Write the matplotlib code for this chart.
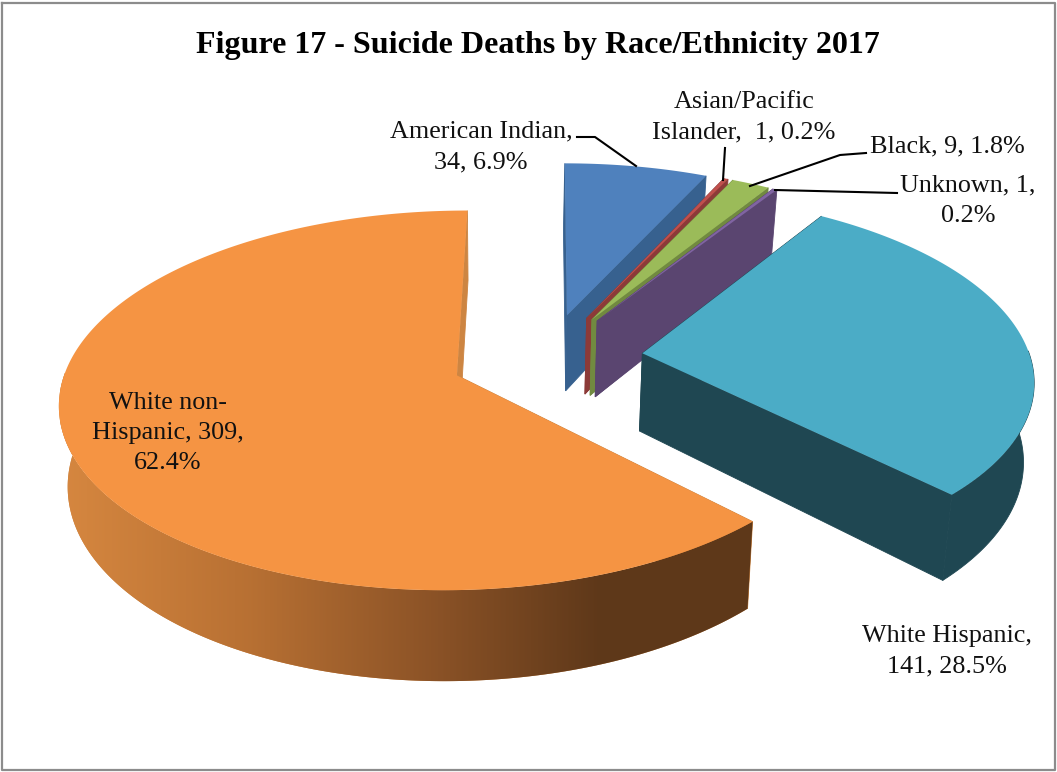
"""Figure 17 - exploded 3D pie of suicide deaths by race/ethnicity."""
import matplotlib
matplotlib.use("Agg")
import matplotlib.pyplot as plt
import numpy as np

CATEGORIES = ["American Indian", "Asian/Pacific Islander", "Black", "Unknown",
              "White Hispanic", "White non-Hispanic"]
VALUES = [34, 1, 9, 1, 141, 309]
TOP_COLORS = ["#4F81BD", "#C0504D", "#9BBB59", "#8064A2", "#4BACC6", "#F59443"]
CUT_COLORS = ["#37618F", "#8C3A38", "#718A40", "#5A4570", "#1F4752", "#CD8542"]

LABELS = ["American Indian,\n34, 6.9%", "Asian/Pacific\nIslander,  1, 0.2%", "Black, 9, 1.8%",
          "Unknown, 1,\n0.2%", "White Hispanic,\n141, 28.5%", "White non-\nHispanic, 309,\n62.4%"]
LABEL_POS = [(481, 147), (744, 117), (947, 146), (968, 201), (947, 651), (168, 433)]
LEADERS = [[(577, 137), (595, 137), (636, 166)],
           [(725, 148), (723, 180)],
           [(866, 153), (840, 155), (750, 186)],
           [(897, 193), (775, 190)]]

# orange wall shading runs left to right
WALL_X = [60, 250, 440, 600, 760]
WALL_R = [0.84, 0.72, 0.54, 0.37, 0.37]
WALL_G = [0.53, 0.44, 0.32, 0.22, 0.22]
WALL_B = [0.25, 0.20, 0.15, 0.10, 0.10]

# projection of the pie plane onto the picture, in pixels
CX, CY = 547, 358
A, B, K = 388, 182, 0.13
EXPLODE = 0.248
START = 0.0
DEPTH = 78
SHRINK = 0.98
PIVOT = 500


def project(px, py, low=False):
    s = 1 / (1 + K * py)
    x = CX + A * px * s
    y = CY - B * py * s
    if low:
        x = PIVOT + (x - PIVOT) * SHRINK
        y = y + DEPTH * s
    return x, y


def rim(t, ox, oy):
    return ox + np.sin(np.radians(t)), oy + np.cos(np.radians(t))


def draw_slice(ax, t0, t1, top, cut, gradient):
    mid = np.radians((t0 + t1) / 2)
    ox, oy = EXPLODE * np.sin(mid), EXPLODE * np.cos(mid)

    # the two cut faces
    for t in (t0, t1):
        ex, ey = rim(t, ox, oy)
        xs = [project(ox, oy)[0], project(ex, ey)[0], project(ex, ey, True)[0], project(ox, oy, True)[0]]
        ys = [project(ox, oy)[1], project(ex, ey)[1], project(ex, ey, True)[1], project(ox, oy, True)[1]]
        ax.fill(xs, ys, color=cut, lw=0.6)

    # outer wall, only the part looking towards the viewer
    ts = np.arange(t0, t1 + 0.5, 0.5)
    ts[-1] = t1
    front = ts[np.cos(np.radians(ts)) < 0.02]
    if len(front) > 1:
        rx, ry = rim(front, ox, oy)
        x1, y1 = project(rx, ry)
        x2, y2 = project(rx, ry, True)
        xs, ys = np.r_[x1, x2[::-1]], np.r_[y1, y2[::-1]]
        if gradient:
            grid = np.linspace(WALL_X[0], WALL_X[-1], 400)
            img = np.dstack([np.interp(grid, WALL_X, WALL_R), np.interp(grid, WALL_X, WALL_G),
                             np.interp(grid, WALL_X, WALL_B)])
            patch = ax.fill(xs, ys, color=cut, lw=0)[0]
            im = ax.imshow(img, extent=[WALL_X[0], WALL_X[-1], 772, 0], aspect="auto", zorder=patch.get_zorder())
            im.set_clip_path(patch)
            ax.set_xlim(0, 1057)
            ax.set_ylim(772, 0)
        else:
            ax.fill(xs, ys, color=cut, lw=0.6)

    # top face
    rx, ry = rim(ts, ox, oy)
    xs, ys = project(np.r_[ox, rx], np.r_[oy, ry])
    ax.fill(xs, ys, color=top, lw=0, zorder=3 if gradient else 1)


def main():
    fig = plt.figure(figsize=(10.57, 7.72), dpi=100)
    ax = fig.add_axes([0, 0, 1, 1])
    ax.set_xlim(0, 1057)
    ax.set_ylim(772, 0)
    ax.axis("off")
    plt.rcParams["font.family"] = ["Liberation Serif"]

    # chart frame
    ax.plot([1.5, 1055, 1055, 1.5, 1.5], [3, 3, 770, 770, 3], color="#8C8C8C", lw=1.6)

    angles = START + np.r_[0, np.cumsum(VALUES)] / sum(VALUES) * 360
    for i in range(len(VALUES)):
        draw_slice(ax, angles[i], angles[i + 1], TOP_COLORS[i], CUT_COLORS[i], CATEGORIES[i] == "White non-Hispanic")

    for pts in LEADERS:
        ax.plot([p[0] for p in pts], [p[1] for p in pts], color="black", lw=1.5, zorder=4)

    for txt, (x, y) in zip(LABELS, LABEL_POS):
        ax.text(x, y, txt, ha="center", va="center", fontsize=18.8, linespacing=1.48, color="#111111", zorder=5)

    ax.text(538, 46, "Figure 17 - Suicide Deaths by Race/Ethnicity 2017", ha="center", va="center",
            fontsize=23, fontweight="bold", color="black")

    fig.savefig("out.png", dpi=100)


if __name__ == "__main__":
    main()
